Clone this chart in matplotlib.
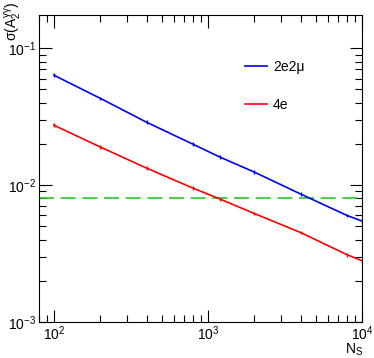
import matplotlib
matplotlib.use('Agg')
import matplotlib.pyplot as plt
from matplotlib.lines import Line2D

plt.rcParams['font.family'] = ['Liberation Sans', 'DejaVu Sans']
plt.rcParams['mathtext.fontset'] = 'custom'
plt.rcParams['mathtext.rm'] = 'Liberation Sans'
plt.rcParams['mathtext.it'] = 'Liberation Sans'

# datos
ns = [100, 200, 400, 800, 1200, 2000, 4000, 8000, 10000]
sigma_2e2mu = [0.0636, 0.0431, 0.0288, 0.0199, 0.0160, 0.01245, 0.0086, 0.0060, 0.00546]
sigma_4e = [0.0274, 0.0190, 0.0133, 0.0095, 0.0079, 0.0062, 0.0045, 0.0031, 0.0028]
limite = 0.0080

fig = plt.figure(figsize=(3.74, 3.58), dpi=100)
ax = fig.add_axes([0.104, 0.1006, 0.864, 0.8575])

err_b = [v * 0.03 for v in sigma_2e2mu]
err_r = [v * 0.03 for v in sigma_4e]
ax.errorbar(ns, sigma_2e2mu, yerr=err_b, color='#0000ff', lw=1.2, elinewidth=1, capsize=0)
ax.errorbar(ns, sigma_4e, yerr=err_r, color='#ff0000', lw=1.2, elinewidth=1, capsize=0)
ax.axhline(limite, color='#22cc22', lw=1.2, ls=(0, (9, 4)))

ax.set_xscale('log')
ax.set_yscale('log')
ax.set_xlim(80, 10000)
ax.set_ylim(0.001, 0.175)

ax.tick_params(which='both', direction='in', top=True, right=True, labelsize=10)
ax.tick_params(which='major', length=9, width=0.8)
ax.tick_params(which='minor', length=5, width=0.8)
ax.set_xticks([100, 1000, 10000])
ax.set_xticklabels(['$10^{2}$', '$10^{3}$', '$10^{4}$'])
ax.set_yticks([0.001, 0.01, 0.1])
ax.set_yticklabels(['$10^{-3}$', '$10^{-2}$', '$10^{-1}$'])
ax.tick_params(axis='x', pad=2)
ax.tick_params(axis='y', pad=2)

# leyenda con lineas simples
handles = [Line2D([], [], color='#0000ff', lw=1.2), Line2D([], [], color='#ff0000', lw=1.2)]
ax.legend(handles, ['2e2\u03bc', '4e'], loc='upper left', bbox_to_anchor=(0.60, 0.895), frameon=False,
          handlelength=1.6, labelspacing=1.75, fontsize=10, handletextpad=0.4)

fig.text(0.008, 0.995, r'$\sigma(A_{2}^{\gamma\gamma})$', rotation=90, ha='left', va='top', fontsize=10)
fig.text(0.972, 0.0, r'$N_{S}$', ha='right', va='bottom', fontsize=10)

fig.savefig('out.png', dpi=100)
